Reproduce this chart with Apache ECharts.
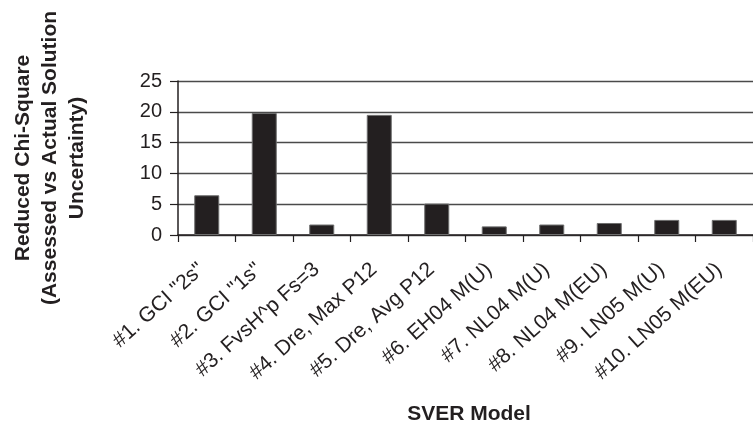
<!DOCTYPE html>
<html>
<head>
<meta charset="utf-8">
<script src="https://cdn.jsdelivr.net/npm/echarts@6/dist/echarts.min.js"></script>
<style>
html,body{margin:0;padding:0;background:#fff;}
#chart{width:753px;height:424px;}
</style>
</head>
<body>
<div id="chart"></div>
<script>
const categories = ['#1. GCI "2s"', '#2. GCI "1s"', '#3. FvsH^p Fs=3', '#4. Dre, Max P12', '#5. Dre, Avg P12',
  '#6. EH04 M(U)', '#7. NL04 M(U)', '#8. NL04 M(EU)', '#9. LN05 M(U)', '#10. LN05 M(EU)'];
const values = [6.45, 19.8, 1.7, 19.5, 5.1, 1.4, 1.7, 1.95, 2.45, 2.45];
const yTitleLines = ['Reduced Chi-Square', '(Assessed vs Actual Solution', 'Uncertainty)'];
const xTitle = 'SVER Model';

const chart = echarts.init(document.getElementById('chart'), null, {renderer: 'canvas'});
const font = 'Arial, "Liberation Sans", Helvetica, sans-serif';
chart.setOption({
  animation: false,
  backgroundColor: '#fff',
  grid: {left: 178, top: 81, width: 577, height: 154, containLabel: false},
  xAxis: {
    type: 'category',
    data: categories,
    axisLine: {show: true, lineStyle: {color: '#231f20', width: 1.5}},
    axisTick: {show: true, length: 7, lineStyle: {color: '#231f20', width: 1.2}},
    axisLabel: {rotate: 42, fontSize: 21, color: '#231f20', fontFamily: font, margin: 27,
      padding: [0, 7, 0, 0], interval: 0},
    splitLine: {show: false}
  },
  yAxis: {
    type: 'value',
    min: 0, max: 25, interval: 5,
    axisLine: {show: true, lineStyle: {color: '#231f20', width: 1.5}},
    axisTick: {show: true, length: 8, lineStyle: {color: '#231f20', width: 1.2}},
    axisLabel: {fontSize: 20, color: '#231f20', fontFamily: font, margin: 16},
    splitLine: {show: true, lineStyle: {color: '#4a4a4a', width: 1.3}}
  },
  series: [{
    type: 'bar',
    data: values,
    barWidth: 25,
    itemStyle: {color: '#231f20', borderColor: '#6d6d6d', borderWidth: 1}
  }],
  graphic: [
    {
      type: 'text',
      x: 50, y: 158,
      rotation: Math.PI / 2,
      style: {
        text: yTitleLines.join('\n'),
        font: 'bold 21px ' + font,
        fill: '#231f20',
        align: 'center',
        verticalAlign: 'middle',
        lineHeight: 27
      }
    },
    {
      type: 'text',
      x: 469, y: 414,
      style: {
        text: xTitle,
        font: 'bold 21px ' + font,
        fill: '#231f20',
        align: 'center',
        verticalAlign: 'middle'
      }
    }
  ]
});
</script>
</body>
</html>
